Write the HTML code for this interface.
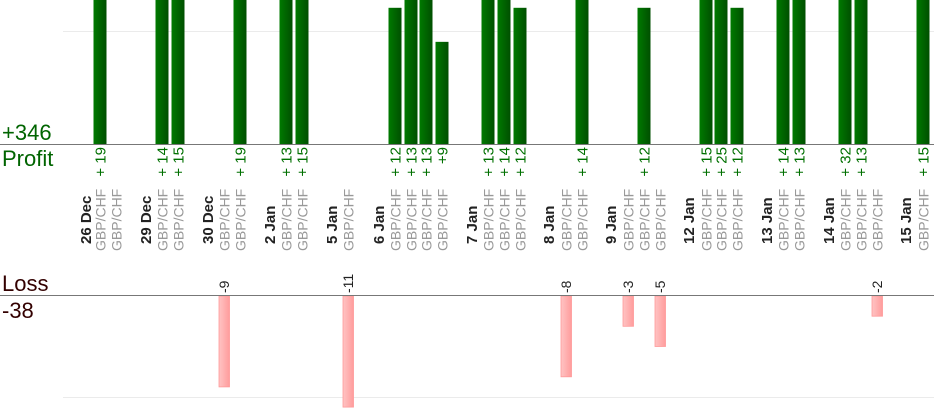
<!DOCTYPE html>
<html><head><meta charset="utf-8"><style>
html,body{margin:0;padding:0;background:#fff;width:934px;height:420px;overflow:hidden}
svg{display:block;font-family:"Liberation Sans",sans-serif}
</style></head><body>
<svg width="934" height="420" xmlns="http://www.w3.org/2000/svg">
<defs>
<linearGradient id="g" x1="0" x2="1"><stop offset="0" stop-color="#007a00"/><stop offset="1" stop-color="#004f00"/></linearGradient>
<linearGradient id="r" x1="0" x2="1"><stop offset="0" stop-color="#ffc4c4"/><stop offset="1" stop-color="#ff9c9c"/></linearGradient>
</defs>
<line x1="63" y1="31.5" x2="934" y2="31.5" stroke="#ebebeb"/>
<line x1="63" y1="397.5" x2="934" y2="397.5" stroke="#ebebeb"/>
<g id="bars"></g>
<line x1="0" y1="144.5" x2="934" y2="144.5" stroke="#777"/>
<line x1="0" y1="295.5" x2="934" y2="295.5" stroke="#777"/>
<text x="2" y="140" font-size="22" fill="#006400">+346</text>
<text x="2" y="166" font-size="22" fill="#006400">Profit</text>
<text x="2" y="291" font-size="22" fill="#330000">Loss</text>
<text x="2" y="318" font-size="22" fill="#330000">-38</text>
<g id="lbl"></g>
</svg>
<script>
var cols=[[100,19],[116,0],[162,14],[178,15],[224,-9],[240,19],[286,13],[302,15],[348,-11],[395,12],[411,13],[426,13],[442,9],[488,13],[504,14],[520,12],[566,-8],[582,14],[628,-3],[644,12],[660,-5],[706,15],[721,25],[737,12],[783,14],[799,13],[845,32],[861,13],[877,-2],[923,15]];
var dates=[[87,"26 Dec"],[147,"29 Dec"],[209,"30 Dec"],[271,"2 Jan"],[333,"5 Jan"],[380,"6 Jan"],[473,"7 Jan"],[550,"8 Jan"],[612,"9 Jan"],[690,"12 Jan"],[768,"13 Jan"],[830,"14 Jan"],[907,"15 Jan"]];
var b="",l="";
cols.forEach(function(c){var x=c[0],v=c[1];
 l+='<text transform="translate('+(x+5.5)+',251) rotate(-90)" font-size="14" fill="#999">GBP/CHF</text>';
 if(v>0){var h=v*11.35,t=Math.max(0,144-h);
  b+='<rect x="'+(x-6.5)+'" y="'+t+'" width="13" height="'+(144-t)+'" fill="url(#g)"/>';
  l+='<text transform="translate('+(x+5.5)+',147) rotate(-90)" font-size="15" fill="#007000" text-anchor="end">'+(v<10?'+':'+ ')+v+'</text>';}
 else if(v<0){var h=-v*10.1;
  b+='<rect x="'+(x-5)+'" y="296" width="10.5" height="'+h+'" fill="url(#r)" stroke="#f99" stroke-width="0.8"/>';
  l+='<text transform="translate('+(x+5)+',293) rotate(-90)" font-size="14" fill="#222">'+v+'</text>';}
});
dates.forEach(function(d){l+='<text transform="translate('+(d[0]+4)+',244) rotate(-90)" font-size="15" font-weight="bold" fill="#222">'+d[1]+'</text>';});
document.getElementById("bars").innerHTML=b;document.getElementById("lbl").innerHTML=l;
</script>
</body></html>
